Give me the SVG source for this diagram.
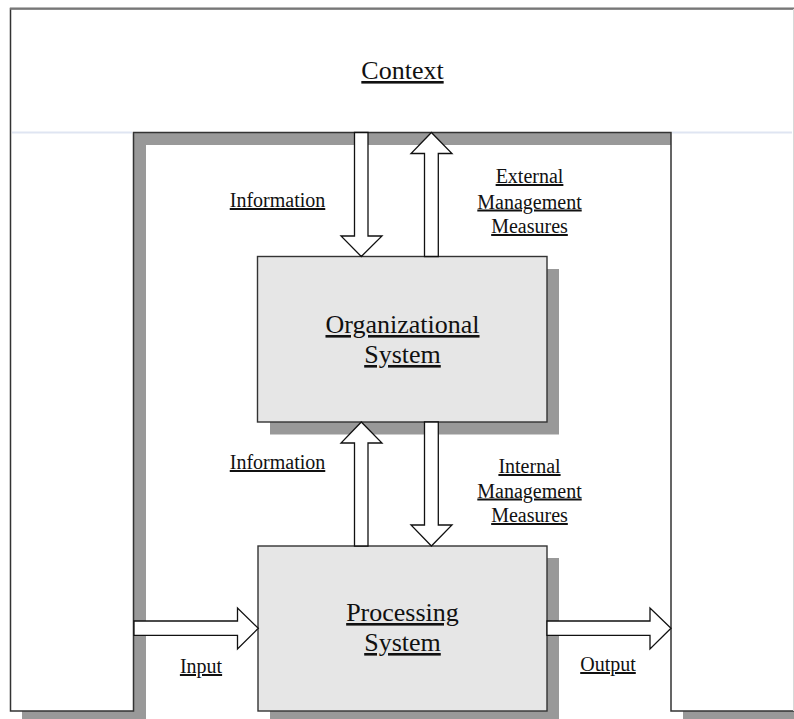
<svg xmlns="http://www.w3.org/2000/svg" width="794" height="719" viewBox="0 0 794 719">
  <style>
    .lbl { font-family: "Liberation Serif", "Times New Roman", serif; font-size: 20px; fill: #111; text-anchor: middle; text-decoration: underline; }
    .big { font-family: "Liberation Serif", "Times New Roman", serif; font-size: 26px; fill: #111; text-anchor: middle; text-decoration: underline; }
    .shadow { fill: #999999; stroke: none; }
    .box { fill: #e6e6e6; stroke: #333; stroke-width: 1.4; }
    .arrow { fill: #ffffff; stroke: #111; stroke-width: 1.3; stroke-linejoin: miter; }
  </style>

  <rect x="0" y="0" width="794" height="719" fill="#ffffff"/>

  <!-- Context frame: top band with left and right columns -->
  <g id="context">
    <path class="shadow" d="M22,21 H806 V724 H683 V145 H146 V724 H22 Z"/>
    <path d="M10.5,8.5 H800 V711 H671 V132.5 H133.5 V711 H10.5 Z" fill="#ffffff" stroke="#333" stroke-width="1.5"/>
    <line x1="10" y1="8.8" x2="794" y2="8.8" stroke="#777" stroke-width="2"/>
    <line x1="793.5" y1="9" x2="793.5" y2="711" stroke="#d8d8d8" stroke-width="1"/>
    <line x1="12" y1="132.5" x2="132" y2="132.5" stroke="#dfe5f2" stroke-width="2"/>
    <line x1="672" y1="132.5" x2="792" y2="132.5" stroke="#dfe5f2" stroke-width="2"/>
    <text class="big" x="402.5" y="79">Context</text>
  </g>

  <!-- Organizational System -->
  <g id="organizational-system">
    <rect class="shadow" x="270" y="269" width="289" height="165.5"/>
    <rect class="box" x="257.5" y="256.5" width="289.5" height="165.5"/>
    <text class="big" x="402.5" y="333">Organizational</text>
    <text class="big" x="402.5" y="363">System</text>
  </g>

  <!-- Processing System -->
  <g id="processing-system">
    <rect class="shadow" x="270" y="558" width="289" height="170"/>
    <rect class="box" x="258" y="546" width="289" height="165"/>
    <text class="big" x="402.5" y="621">Processing</text>
    <text class="big" x="402.5" y="651">System</text>
  </g>

  <!-- Connectors: block arrows -->
  <g id="connectors">
    <!-- Information: context to organizational system -->
    <polygon class="arrow" points="354.5,132.5 368,132.5 368,236 382,236 361.3,256.5 341,236 354.5,236"/>
    <!-- External management measures: organizational system to context -->
    <polygon class="arrow" points="424.5,256.5 424.5,153.5 411,153.5 431.4,132.5 452,153.5 438.3,153.5 438.3,256.5"/>
    <!-- Information: processing system to organizational system -->
    <polygon class="arrow" points="354.5,546 354.5,443 341,443 361.3,422 382,443 368,443 368,546"/>
    <!-- Internal management measures: organizational system to processing system -->
    <polygon class="arrow" points="424.5,422 438.3,422 438.3,525 452,525 431.4,546 411,525 424.5,525"/>
    <!-- Input -->
    <polygon class="arrow" points="134,621 237.5,621 237.5,608 258.3,628.3 237.5,649 237.5,635.3 134,635.3"/>
    <!-- Output -->
    <polygon class="arrow" points="547,621 650,621 650,608 671,628.3 650,649 650,635.3 547,635.3"/>
  </g>

  <!-- Connector labels -->
  <g id="labels">
    <text class="lbl" x="277.5" y="207">Information</text>
    <text class="lbl" x="529.5" y="183">External</text>
    <text class="lbl" x="529.5" y="208.5">Management</text>
    <text class="lbl" x="529.5" y="233">Measures</text>
    <text class="lbl" x="277.5" y="469">Information</text>
    <text class="lbl" x="529.5" y="473">Internal</text>
    <text class="lbl" x="529.5" y="497.5">Management</text>
    <text class="lbl" x="529.5" y="522">Measures</text>
    <text class="lbl" x="201" y="673">Input</text>
    <text class="lbl" x="608" y="671">Output</text>
  </g>
</svg>
